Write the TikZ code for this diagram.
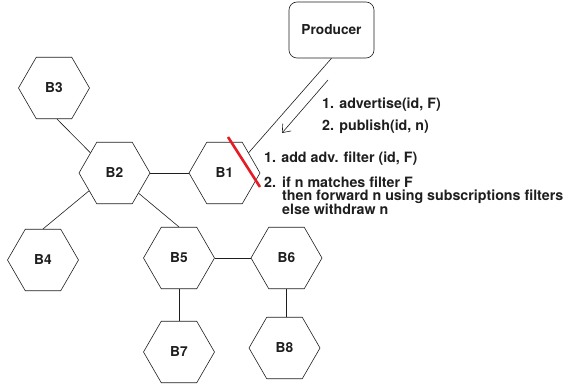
\documentclass[tikz,border=0pt]{standalone}
\usepackage{fontspec}
\setmainfont{TeX Gyre Heros}
\usetikzlibrary{shapes.geometric,arrows.meta}
\definecolor{ink}{RGB}{30,30,30}
\definecolor{cutred}{RGB}{228,28,36}
\tikzset{
  broker/.style={draw=ink, line width=0.6pt, shape=regular polygon, regular polygon sides=6,
    minimum size=71pt, inner sep=0pt, font=\fontsize{13.7}{14}\selectfont\bfseries, text=ink},
  prodbox/.style={draw=ink, line width=0.6pt, rounded corners=8pt, minimum width=85pt,
    minimum height=56pt, inner sep=0pt, font=\fontsize{13.7}{14}\selectfont\bfseries, text=ink},
  link/.style={draw=ink, line width=0.6pt},
  note/.style={anchor=base west, inner sep=0pt, font=\fontsize{14.25}{14}\selectfont\bfseries, text=ink}
}
\begin{document}
\begin{tikzpicture}[x=1pt,y=-1pt]
\useasboundingbox (0,0) rectangle (563,385);
% nodes
\node[prodbox] (P) at (331.5,30) {Producer};
\node[broker] (B1) at (224.5,173) {B1};
\node[broker] (B2) at (114.5,173) {B2};
\node[broker] (B3) at (54,88) {B3};
\node[broker] (B4) at (43,260) {B4};
\node[broker] (B5) at (179,258) {B5};
\node[broker] (B6) at (286.5,258) {B6};
\node[broker] (B7) at (179,352) {B7};
\node[broker] (B8) at (284.5,348) {B8};
% links
\draw[link] (P.south) -- (B1.40);
\draw[link] (B2.east) -- (B1.west);
\draw[link] ([xshift=3pt]B3.south) -- (B2.140);
\draw[link] (B2.215) -- (B4.north);
\draw[link] (B2.320) -- (B5.north);
\draw[link] (B5.east) -- (B6.west);
\draw[link] (B5.south) -- (B7.north);
\draw[link] (B6.south) -- (B6.south |- B8.north);
% message arrow
\coordinate (a1) at (328,80);
\coordinate (a2) at (282,133);
\draw[link, -{Straight Barb[length=7pt,width=11pt]}] (a1) -- (a2);
% red cut
\coordinate (r1) at (228,137);
\coordinate (r2) at (260,187);
\draw[cutred, line width=2.6pt] (r1) -- (r2);
% texts
\node[note] (t1) at (322,109) {1. advertise(id, F)};
\node[note] (t2) at (322,131) {2. publish(id, n)};
\node[note] (t3) at (264,162.5) {1. add adv. filter (id, F)};
\node[note] (t4) at (264,187.3) {2.};
\node[note] (t5) at (282,187.3) {if n matches filter F};
\node[note] (t6) at (282,201) {then forward n using subscriptions filters};
\node[note] (t7) at (282,215) {else withdraw n};
\end{tikzpicture}
\end{document}
